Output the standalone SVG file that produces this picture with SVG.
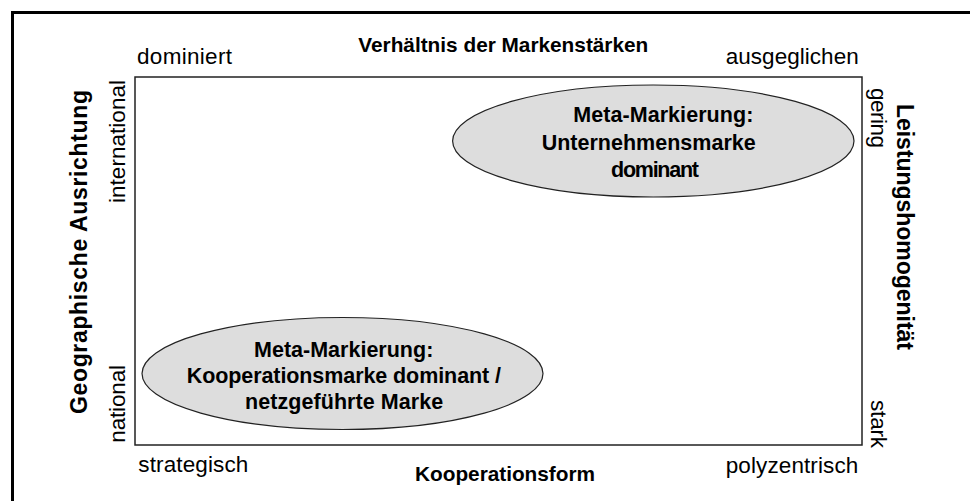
<svg xmlns="http://www.w3.org/2000/svg" width="970" height="501" viewBox="0 0 970 501">
<style>
text{font-family:"Liberation Sans",Arial,sans-serif;font-size:22.5px;fill:#000}
.b{font-weight:bold;font-size:21.5px}
.t{font-weight:bold;font-size:20.8px}
.s{font-weight:bold;font-size:23px}
.ell{fill:#dddddd;stroke:#222;stroke-width:1.2}
</style>
<rect x="0" y="0" width="970" height="501" fill="#fff"/>
<g id="frame">
<rect x="12.5" y="12.5" width="990" height="520" fill="none" stroke="#000" stroke-width="3"/>
<rect x="135" y="77" width="727" height="368" fill="none" stroke="#222" stroke-width="1.5"/>
</g>
<g id="axis-labels">
<text class="t" x="358.3" y="51.5" textLength="290" lengthAdjust="spacing">Verhältnis der Markenstärken</text>
<text x="137" y="64" textLength="95" lengthAdjust="spacing">dominiert</text>
<text x="725.7" y="63.5" textLength="133" lengthAdjust="spacing">ausgeglichen</text>
<text x="138.3" y="472" textLength="110" lengthAdjust="spacing">strategisch</text>
<text class="t" x="415" y="481" textLength="180" lengthAdjust="spacing">Kooperationsform</text>
<text x="725.7" y="472.5" textLength="132.6" lengthAdjust="spacing">polyzentrisch</text>
<text transform="translate(125,203) rotate(-90)" textLength="123" lengthAdjust="spacing">international</text>
<text transform="translate(125,442.7) rotate(-90)" textLength="77.7" lengthAdjust="spacing">national</text>
<text class="s" transform="translate(86.5,414) rotate(-90)" textLength="324" lengthAdjust="spacing">Geographische Ausrichtung</text>
<text class="s" transform="translate(897,104) rotate(90)" textLength="246" lengthAdjust="spacing">Leistungshomogenität</text>
<text transform="translate(871,88) rotate(90)" textLength="60" lengthAdjust="spacing">gering</text>
<text transform="translate(871,400) rotate(90)" textLength="48" lengthAdjust="spacing">stark</text>
</g>
<g id="connectors"></g>
<g id="node-unternehmensmarke">
<ellipse class="ell" cx="653.3" cy="141" rx="200.7" ry="56"/>
<text class="b" x="573.3" y="122.3" textLength="180" lengthAdjust="spacing">Meta-Markierung:</text>
<text class="b" x="541.7" y="150" textLength="214" lengthAdjust="spacing">Unternehmensmarke</text>
<text class="b" x="611" y="176.7" textLength="88" lengthAdjust="spacing">dominant</text>
</g>
<g id="node-kooperationsmarke">
<ellipse class="ell" cx="342.5" cy="373.5" rx="200.5" ry="56"/>
<text class="b" x="254" y="356.7" textLength="179.3" lengthAdjust="spacing">Meta-Markierung:</text>
<text class="b" x="186.7" y="383.3" textLength="314.3" lengthAdjust="spacing">Kooperationsmarke dominant /</text>
<text class="b" x="245" y="409.3" textLength="198.3" lengthAdjust="spacing">netzgeführte Marke</text>
</g>
</svg>
